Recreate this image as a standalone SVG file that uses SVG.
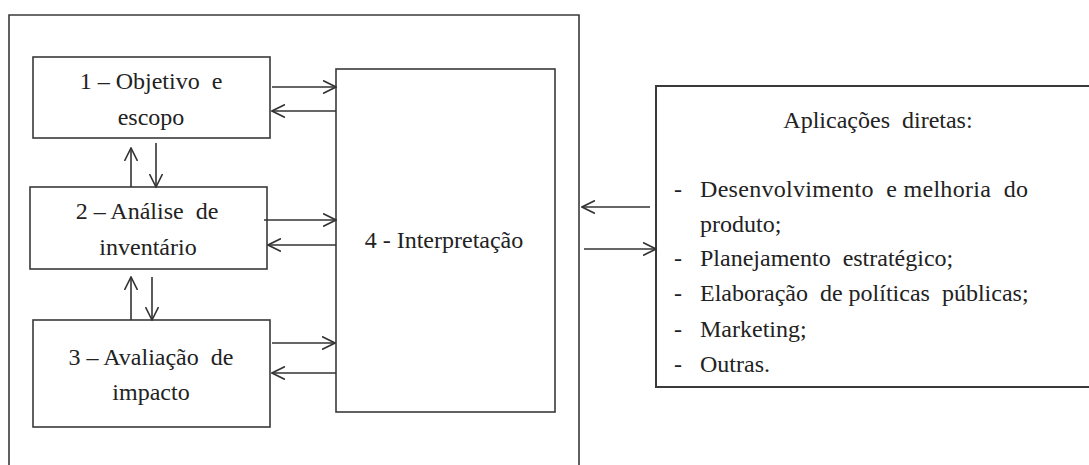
<svg xmlns="http://www.w3.org/2000/svg" width="1089" height="465" viewBox="0 0 1089 465">
  <style>
    .box { fill: #ffffff; stroke: #3a3a3a; stroke-width: 1.6; }
    .frame { fill: none; stroke: #3a3a3a; stroke-width: 1.6; }
    .link { fill: none; stroke: #333333; stroke-width: 1.6; marker-end: url(#open); }
    .lbl { font-size: 24px; fill: #222222; }
    .mid { text-anchor: middle; }
  </style>
  <defs>
    <marker id="open" viewBox="0 0 14 14" refX="13" refY="7" markerWidth="14" markerHeight="14" markerUnits="userSpaceOnUse" orient="auto">
      <path d="M0,0.5 L13,7 L0,13.5" fill="none" stroke="#333333" stroke-width="1.6"/>
    </marker>
  </defs>

  <rect width="1089" height="465" fill="#ffffff"/>

  <!-- outer frame around the four phases (open at the bottom edge) -->
  <path class="frame" d="M9,470 V15 H579 V470"/>

  <g font-family="'Liberation Serif', 'Times New Roman', 'DejaVu Serif', serif">
  <g id="objetivo">
    <rect class="box" x="33" y="57" width="237" height="81"/>
    <text class="lbl mid" x="151" y="89" xml:space="preserve">1 – Objetivo  e</text>
    <text class="lbl mid" x="151" y="125">escopo</text>
  </g>

  <g id="inventario">
    <rect class="box" x="30" y="187" width="237" height="82"/>
    <text class="lbl mid" x="147" y="219" xml:space="preserve">2 – Análise  de</text>
    <text class="lbl mid" x="148" y="255">inventário</text>
  </g>

  <g id="impacto">
    <rect class="box" x="33" y="320" width="237" height="107"/>
    <text class="lbl mid" x="151" y="365" xml:space="preserve">3 – Avaliação  de</text>
    <text class="lbl mid" x="151" y="400">impacto</text>
  </g>

  <g id="interpretacao">
    <rect class="box" x="336" y="69" width="219" height="343"/>
    <text class="lbl mid" x="444" y="248">4 - Interpretação</text>
  </g>

  <g id="aplicacoes">
    <path class="box" d="M1095,86 H656 V387 H1095" style="stroke-width:2"/>
    <text class="lbl mid" x="878" y="128" xml:space="preserve">Aplicações  diretas:</text>
    <text class="lbl" x="674" y="197">-</text>
    <text class="lbl" x="700" y="197" textLength="328" lengthAdjust="spacing" xml:space="preserve">Desenvolvimento  e melhoria  do</text>
    <text class="lbl" x="700" y="232">produto;</text>
    <text class="lbl" x="674" y="266">-</text>
    <text class="lbl" x="700" y="266" xml:space="preserve">Planejamento  estratégico;</text>
    <text class="lbl" x="674" y="301">-</text>
    <text class="lbl" x="700" y="301" xml:space="preserve">Elaboração  de políticas  públicas;</text>
    <text class="lbl" x="674" y="337">-</text>
    <text class="lbl" x="700" y="337">Marketing;</text>
    <text class="lbl" x="674" y="372">-</text>
    <text class="lbl" x="700" y="372">Outras.</text>
  </g>
  </g>

  <g id="connectors">
    <line class="link" x1="272" y1="87" x2="336" y2="87"/>
    <line class="link" x1="336" y1="111" x2="272" y2="111"/>
    <line class="link" x1="131" y1="187" x2="131" y2="148"/>
    <line class="link" x1="156" y1="143" x2="156" y2="187"/>
    <line class="link" x1="264" y1="220" x2="336" y2="220"/>
    <line class="link" x1="336" y1="245" x2="268" y2="245"/>
    <line class="link" x1="131" y1="320" x2="131" y2="277"/>
    <line class="link" x1="152" y1="277" x2="152" y2="320"/>
    <line class="link" x1="272" y1="343" x2="335" y2="343"/>
    <line class="link" x1="336" y1="373" x2="272" y2="373"/>
    <line class="link" x1="650" y1="207" x2="582" y2="207"/>
    <line class="link" x1="584" y1="249" x2="656" y2="249"/>
  </g>
</svg>
